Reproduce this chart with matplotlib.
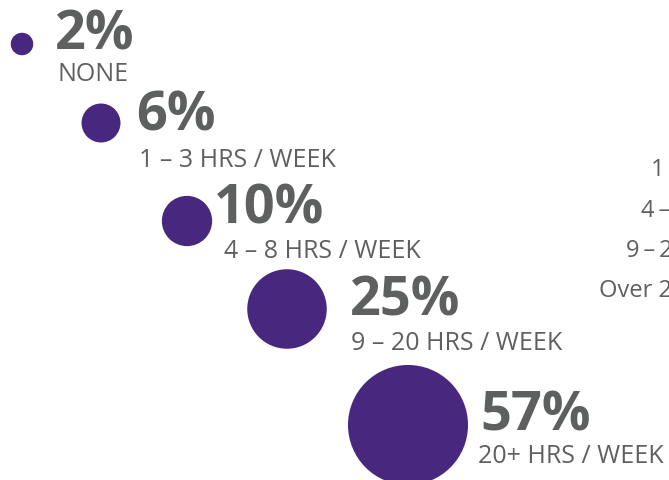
import numpy as np
import matplotlib.pyplot as plt
from matplotlib.patches import Circle

# share of respondents by hours per week
percents = [2, 6, 10, 25, 57]
labels = ["NONE", "1 – 3 HRS / WEEK", "4 – 8 HRS / WEEK", "9 – 20 HRS / WEEK", "20+ HRS / WEEK"]
side_labels = ["1\u2009–\u20093 hours", "4\u2009–\u20098 hours", "9\u2009–\u200920 hours", "Over 20 hours"]

purple = "#48287f"
grey = "#5e6060"

fig = plt.figure(figsize=(6.69, 4.81), dpi=100)
ax = fig.add_axes([0, 0, 1, 1])
ax.set_xlim(0, 669)
ax.set_ylim(481, 0)
ax.set_aspect("equal")
ax.axis("off")

# circle centres and text anchors (pixels)
centres = [(22, 45), (101, 124), (187, 222), (287, 310), (408, 426)]
pct_x = [55, 136, 214, 350, 480]
pct_y = [49, 131, 224, 316, 431]
lab_x = [57, 139, 224, 351, 478]
lab_y = [81, 167, 258, 350, 463]

for i, (pct, lab) in enumerate(zip(percents, labels)):
    cx, cy = centres[i]
    r = 7.95 * np.sqrt(pct)  # area proportional to share
    ax.add_patch(Circle((cx, cy), r, color=purple, lw=0))
    ax.text(pct_x[i], pct_y[i], f"{pct}%", fontsize=39, fontweight="bold", color=grey,
            family="Open Sans", va="baseline", ha="left")
    ax.text(lab_x[i], lab_y[i], lab, fontsize=18, color=grey, family="Open Sans",
            va="baseline", ha="left")

# cut-off legend on the right edge
side_x = [651, 641, 626, 599]
side_y = [176, 217, 257, 297]
for t, x, y in zip(side_labels, side_x, side_y):
    ax.text(x, y, t, fontsize=17, color=grey, family="Open Sans", va="baseline", ha="left")

fig.savefig("out.png", dpi=100)
